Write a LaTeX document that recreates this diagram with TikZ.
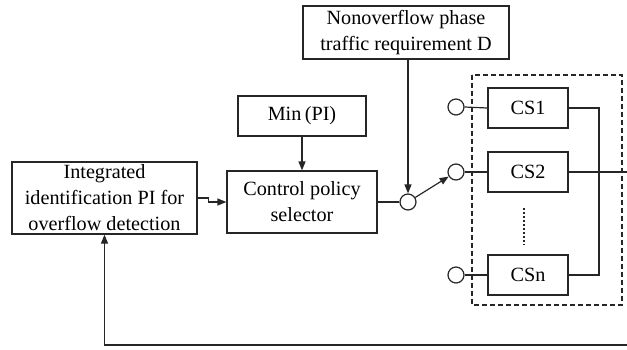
\documentclass[tikz,border=0pt]{standalone}
\usepackage{fontspec}
\setmainfont{Liberation Serif}
\usetikzlibrary{arrows.meta}
\begin{document}
\begin{tikzpicture}[x=1pt,y=-1pt,
  line width=1.2pt, draw=black!85,
  box/.style={draw, rectangle, inner sep=0pt, align=center,
    font=\fontsize{20.2}{26}\selectfont},
  port/.style={draw, circle, minimum size=16pt, inner sep=0pt},
  tip/.style={-{Triangle[length=9pt,width=7pt]}}]
\useasboundingbox (0,0) rectangle (627,349);

% blocks
\node[box, minimum width=185pt, minimum height=72pt] (L) at (104.5,198)
  {Integrated\\identification PI for\\overflow detection};
\node[box, minimum width=150pt, minimum height=62pt] (C) at (302,202)
  {Control policy\\selector};
\node[box, minimum width=128pt, minimum height=40pt] (M) at (302,116) {Min\,(PI)};
\node[box, minimum width=206pt, minimum height=53pt] (N) at (406,32.5)
  {Nonoverflow phase\\traffic requirement D};

% switch and contacts
\node[port] (sw) at (408,202) {};
\node[port] (p1) at (456,107) {};
\node[port] (p2) at (456,172) {};
\node[port] (pn) at (456,275) {};

% controller bank
\draw[dashed, dash pattern=on 5pt off 3pt] (472,75) rectangle (622,305);
\node[box, minimum width=80pt, minimum height=40pt] (cs1) at (528,108) {CS1};
\node[box, minimum width=80pt, minimum height=40pt] (cs2) at (528,172) {CS2};
\node[box, minimum width=80pt, minimum height=40pt] (csn) at (528,275) {CSn};
\draw[line width=1.6pt, dash pattern=on 1.6pt off 2.4pt] (524,208) -- (524,245);

\coordinate (bus1) at (599,108);
\coordinate (busn) at (599,275);
\coordinate (out) at (627,172);
\coordinate (fb) at (627,345);

% connectors
\draw[tip] (L.east) -- ++(11,0) |- (C.west);
\draw[tip] (M.south) -- (C.north);
\draw (C.east |- sw) -- (sw.west);
\draw[tip] (sw.north |- N.south) -- (sw.north);
\draw[tip] (sw.32) -- (p2.212);
\draw (p1.east) -- (cs1.west);
\draw (p2.east) -- (cs2.west);
\draw (pn.east) -- (csn.west);
\draw (cs1.east) -- (bus1) -- (busn) -- (csn.east);
\draw (cs2.east) -- (out);
\draw[tip] (fb) -- (L.south |- fb) -- (L.south);
\end{tikzpicture}
\end{document}
